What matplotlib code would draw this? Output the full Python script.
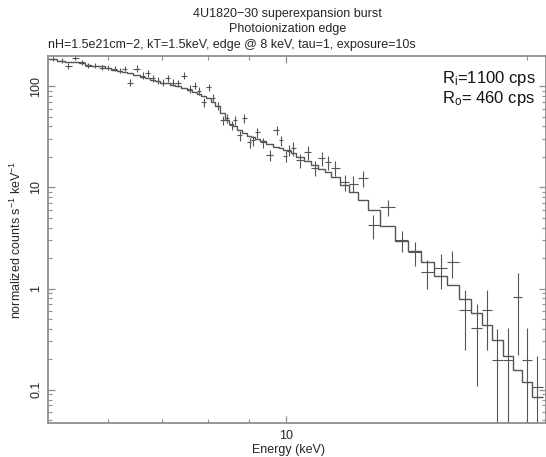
#!/usr/bin/env python3
# -*- coding: utf-8 -*-
"""
Count spectrum of the 4U1820-30 superexpansion burst with a photoionization
edge model drawn as a step line on top of the binned data.
"""

import numpy as np
import matplotlib

matplotlib.use("Agg")
import matplotlib.pyplot as plt
from matplotlib.ticker import FuncFormatter, NullFormatter, LogLocator

##################################Data#########################################
# bin centres (keV)
ENERGY = [
    5.12, 5.25, 5.35, 5.46, 5.57, 5.66, 5.78, 5.90, 6.00, 6.12,
    6.21, 6.30, 6.39, 6.52, 6.63, 6.73, 6.83, 6.92, 7.02, 7.13,
    7.23, 7.33, 7.46, 7.59, 7.70, 7.79, 7.90, 8.02, 8.11, 8.23,
    8.35, 8.44, 8.56, 8.64, 8.76, 8.86, 9.02, 9.10, 9.20, 9.36,
    9.55, 9.74, 9.86, 10.00, 10.09, 10.20, 10.41, 10.65, 10.87, 11.09,
    11.28, 11.51, 11.85, 12.12, 12.47, 12.84, 13.40, 13.95, 14.48, 15.03,
    15.64, 16.15, 16.72, 17.31, 17.86, 18.38, 18.92, 19.47, 20.03, 20.62,
]
# normalized counts s^-1 keV^-1
COUNTS = [
    187, 178, 159, 191, 171, 159, 159, 152, 152, 149,
    142, 149, 108, 149, 127, 133, 119, 113, 108, 119,
    108, 106, 127, 94, 101, 90, 69, 97, 77, 64,
    46, 48, 41, 46, 32.5, 48, 27.8, 29.0, 34.8, 27.8,
    20.7, 36.5, 29.0, 20.2, 23.2, 24.2, 18.5, 22.1, 15.4, 19.3,
    17.6, 15.4, 11.2, 10.9, 12.3, 4.22, 6.35, 3.01, 2.29, 1.45,
    1.59, 1.82, 0.61, 0.41, 0.61, 0.198, 0.198, 0.82, 0.198, 0.107,
]
COUNT_ERR = [
    11, 10, 10, 11, 10, 9, 9, 9, 9, 9,
    9, 9, 9, 12, 10, 11, 10, 9, 9, 10,
    9, 9, 10, 8, 8, 8, 7, 8, 7, 6,
    5, 5, 4.5, 5, 3.6, 5, 3.2, 3.3, 4, 3.2,
    2.5, 4, 3.3, 2.4, 2.8, 3.8, 3.0, 3.5, 2.6, 3.1,
    2.9, 2.6, 2.0, 2.0, 2.2, 1.1, 1.1, 0.7, 0.62, 0.45,
    0.6, 0.55, 0.36, 0.30, 0.36, 0.2, 0.21, 0.6, 0.21, 0.11,
]
# folded model in the same bins
MODEL = [
    184.5, 178, 174, 171, 167, 163, 159, 156, 152, 145,
    142, 139, 134, 130, 124, 119, 115, 111, 108, 106,
    102, 99, 95.5, 91.4, 88.3, 84.3, 80.6, 76.2, 70.3, 62.8,
    53.6, 46, 41.8, 39.9, 36.5, 34.0, 31.8, 31.1, 29.7, 28.4,
    26.8, 25.1, 24.2, 23.4, 22.6, 21.6, 19.8, 18.0, 16.7, 15.2,
    14.1, 12.6, 10.5, 8.93, 7.45, 5.93, 4.13, 2.94, 2.34, 1.82,
    1.33, 1.08, 0.79, 0.574, 0.437, 0.311, 0.216, 0.157, 0.120, 0.085,
]
TITLE_LINES = [
    "4U1820\u221230 superexpansion burst",
    "Photoionization edge",
    "nH=1.5e21cm\u22122, kT=1.5keV, edge @ 8 keV, tau=1, exposure=10s",
]
RATE_IN = "1100"
RATE_OUT = "460"
XLIM = (5.05, 21.1)
YLIM = (0.047, 198)
##################################Style########################################
DATA_COLOUR = "#555555"
FRAME_COLOUR = "#8f8f8f"
TEXT_COLOUR = "#262626"

plt.rcParams["font.family"] = ["Liberation Sans", "DejaVu Sans"]
plt.rcParams["mathtext.fontset"] = "custom"
plt.rcParams["mathtext.rm"] = "Liberation Sans"
plt.rcParams["mathtext.it"] = "Liberation Sans:italic"

if __name__ == "__main__":
    energy = np.array(ENERGY)
    # bin edges halfway (in log) between neighbouring centres
    mids = np.sqrt(energy[1:] * energy[:-1])
    edges = np.concatenate(
        [[energy[0] ** 2 / mids[0]], mids, [energy[-1] ** 2 / mids[-1]]]
    )
    xerr = np.vstack([energy - edges[:-1], edges[1:] - energy])

    fig = plt.figure(figsize=(5.46, 4.57), dpi=100)
    ax = fig.add_axes([48 / 546, 34 / 457, 497.5 / 546, 367 / 457])

    ax.errorbar(
        energy,
        COUNTS,
        xerr=xerr,
        yerr=COUNT_ERR,
        fmt="none",
        ecolor=DATA_COLOUR,
        elinewidth=0.8,
        capsize=0,
    )
    ax.stairs(MODEL, edges, baseline=None, color=DATA_COLOUR, linewidth=1.0)

    ax.set_xscale("log")
    ax.set_yscale("log")
    ax.set_xlim(*XLIM)
    ax.set_ylim(*YLIM)

    ax.xaxis.set_major_locator(LogLocator(base=10))
    ax.xaxis.set_minor_locator(LogLocator(base=10, subs=np.arange(2, 10)))
    ax.xaxis.set_major_formatter(FuncFormatter(lambda v, _: f"{v:g}"))
    ax.xaxis.set_minor_formatter(NullFormatter())
    ax.yaxis.set_major_formatter(FuncFormatter(lambda v, _: f"{v:g}"))
    ax.yaxis.set_minor_formatter(NullFormatter())

    for spine in ax.spines.values():
        spine.set_color(FRAME_COLOUR)
        spine.set_linewidth(1.3)
    ax.tick_params(
        which="both",
        direction="in",
        top=True,
        right=True,
        color=FRAME_COLOUR,
        labelcolor=TEXT_COLOUR,
        labelsize=9,
    )
    ax.tick_params(which="major", length=5, width=0.9)
    ax.tick_params(which="minor", length=3, width=0.8)
    ax.tick_params(axis="x", pad=5)
    ax.tick_params(axis="y", pad=4)
    for lbl in ax.get_yticklabels():
        lbl.set_rotation(90)
        lbl.set_verticalalignment("center")

    ax.set_xlabel("Energy (keV)", fontsize=9, color=TEXT_COLOUR)
    ax.xaxis.set_label_coords(0.483, -0.057)

    # y label placed directly on the figure
    fig.text(
        16 / 546,
        1 - 240 / 457,
        r"normalized counts s$^{\mathregular{-1}}$ keV$^{\mathregular{-1}}$",
        rotation=90,
        ha="center",
        va="center",
        fontsize=9,
        color=TEXT_COLOUR,
    )

    # three-line header
    fig.text(0.526, 1 - 14 / 457, TITLE_LINES[0], ha="center", va="center",
             fontsize=9, color=TEXT_COLOUR)
    fig.text(0.526, 1 - 29 / 457, TITLE_LINES[1], ha="center", va="center",
             fontsize=9, color=TEXT_COLOUR)
    fig.text(48 / 546, 1 - 45 / 457, TITLE_LINES[2], ha="left", va="center",
             fontsize=9, color=TEXT_COLOUR)

    # input / output rates
    fig.text(442 / 546, 1 - 79 / 457, r"R$_{\mathregular{i}}$=" + RATE_IN + " cps",
             ha="left", va="center", fontsize=12, color="#111111")
    fig.text(442 / 546, 1 - 99 / 457, r"R$_{\mathregular{o}}$= " + RATE_OUT + " cps",
             ha="left", va="center", fontsize=12, color="#111111")

    fig.savefig("out.png", dpi=100, facecolor="white")
    plt.close(fig)
